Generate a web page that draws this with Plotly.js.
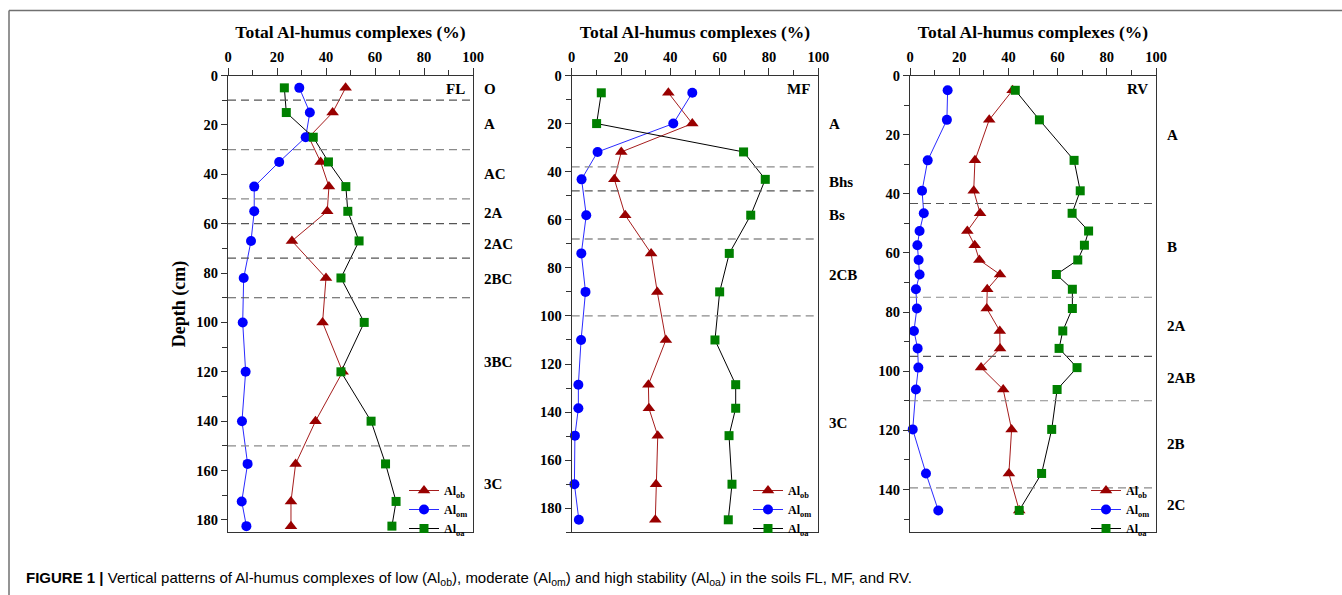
<!DOCTYPE html>
<html><head><meta charset="utf-8">
<script src="https://cdn.plot.ly/plotly-3.0.1.min.js"></script>
<style>html,body{margin:0;padding:0;background:#fff;overflow:hidden;} #chart{width:1342px;height:595px;}</style>
</head><body><div id="chart"></div>
<script>
// ---------- data ----------
const seriesNames = ['Al<sub>ob</sub>', 'Al<sub>om</sub>', 'Al<sub>oa</sub>'];

const flDepth = [5, 15, 25, 35, 45, 55, 67, 82, 100, 120, 140, 157.3, 172.5, 182.5];
const flOb = [48.0, 42.7, 33.0, 37.8, 41.2, 40.5, 26.1, 40.0, 38.6, 46.8, 35.7, 27.6, 25.7, 25.7];
const flOm = [29.1, 33.4, 31.7, 20.9, 10.7, 10.7, 9.4, 6.4, 6.0, 7.2, 5.7, 8.0, 5.6, 7.5];
const flOa = [23.0, 23.8, 34.8, 41.0, 48.1, 48.9, 53.5, 46.1, 55.6, 46.1, 58.4, 64.3, 68.6, 66.9];

const mfDepth = [7.2, 20, 31.8, 43.2, 58.1, 74, 90, 110, 128.6, 138.4, 149.8, 170, 184.8];
const mfOb = [39.2, 48.9, 20.1, 17.3, 21.7, 32.2, 34.7, 38.2, 31.1, 31.3, 34.9, 34.2, 33.9];
const mfOm = [48.9, 41.2, 10.5, 4.0, 5.9, 3.9, 5.6, 3.8, 2.7, 2.7, 1.3, 1.1, 2.9];
const mfOa = [12.0, 10.1, 69.7, 78.5, 72.6, 63.9, 60.0, 58.1, 66.5, 66.5, 63.8, 65.0, 63.5];

const rvDepth = [5, 15, 28.7, 39, 46.6, 52.6, 57.4, 62.4, 67.3, 72.3, 78.8, 86.4, 92.3, 98.8, 106.2, 119.7, 134.6, 147.1];
const rvOb = [41.7, 32.2, 26.4, 25.9, 28.5, 23.3, 26.3, 28.2, 36.6, 31.4, 31.2, 36.5, 36.6, 28.9, 37.9, 41.3, 40.2, 44.4];
const rvOm = [15.3, 15.0, 7.2, 4.9, 5.6, 3.9, 3.0, 3.5, 3.9, 2.4, 2.8, 1.6, 3.1, 3.4, 2.4, 1.1, 6.5, 11.5];
const rvOa = [42.8, 52.6, 66.7, 69.2, 65.9, 72.6, 70.9, 68.2, 59.5, 66.0, 66.0, 62.1, 60.6, 67.9, 59.8, 57.6, 53.5, 44.4];

// horizon boundaries (depth, cm) and whether drawn dark
const flBounds = [10, 30, 50, 60, 74, 90, 150];
const flBoundDark = [1, 0, 0, 1, 1, 1, 0];
const mfBounds = [38, 48, 68, 100];
const mfBoundDark = [0, 1, 1, 0];
const rvBounds = [43.3, 75, 95, 110, 139.5];
const rvBoundDark = [1, 0, 1, 0, 0];

// horizon labels
const flHorizons = ['O', 'A', 'AC', '2A', '2AC', '2BC', '3BC', '3C'];
const flHorizonDepth = [5.4, 19.6, 40, 55.5, 68.2, 82.5, 115.9, 165.6];
const mfHorizons = ['A', 'Bhs', 'Bs', '2CB', '3C'];
const mfHorizonDepth = [20.2, 44.3, 57.9, 83, 144.4];
const rvHorizons = ['A', 'B', '2A', '2AB', '2B', '2C'];
const rvHorizonDepth = [20, 58, 84.7, 102.2, 124.7, 145.4];

const siteNames = ['FL', 'MF', 'RV'];
const xTitle = 'Total Al-humus complexes (%)';
const yTitle = 'Depth (cm)';
const caption = '<b>FIGURE 1 |</b> Vertical patterns of Al-humus complexes of low (Al<sub>ob</sub>), moderate (Al<sub>om</sub>) and high stability (Al<sub>oa</sub>) in the soils FL, MF, and RV.';

// ---------- layout geometry ----------
const W = 1342, H = 595;
const px = v => v / W;
const py = v => 1 - v / H;
const serif = 'Liberation Serif, Times New Roman, serif';
const panels = [
  {depth: flDepth, ob: flOb, om: flOm, oa: flOa, bounds: flBounds, dark: flBoundDark, hz: flHorizons, hzd: flHorizonDepth, x0: 228, x1: 473, ymax: 185, legX: 404},
  {depth: mfDepth, ob: mfOb, om: mfOm, oa: mfOa, bounds: mfBounds, dark: mfBoundDark, hz: mfHorizons, hzd: mfHorizonDepth, x0: 571.7, x1: 818.3, ymax: 190, legX: 748},
  {depth: rvDepth, ob: rvOb, om: rvOm, oa: rvOa, bounds: rvBounds, dark: rvBoundDark, hz: rvHorizons, hzd: rvHorizonDepth, x0: 910, x1: 1156, ymax: 154.5, legX: 1086}
];
const yTop = 75.5, yBot = 532.3;

const styles = [
  {symbol: 'triangle-up', msize: 11, mcolor: '#990000', lcolor: '#a51c1c'},
  {symbol: 'circle', msize: 10, mcolor: '#0000ff', lcolor: '#2a2aff'},
  {symbol: 'square', msize: 9, mcolor: '#008000', lcolor: '#000000'}
];

const traces = [];
const layout = {
  width: W, height: H,
  margin: {l: 0, r: 0, t: 0, b: 0},
  paper_bgcolor: '#fff', plot_bgcolor: '#fff',
  showlegend: true,
  shapes: [], annotations: [],
  font: {family: serif, color: '#000'}
};

panels.forEach((p, i) => {
  const sfx = i === 0 ? '' : String(i + 1);
  const xa = 'x' + sfx, ya = 'y' + sfx;
  const legName = i === 0 ? 'legend' : 'legend' + (i + 1);
  [p.ob, p.om, p.oa].forEach((vals, k) => {
    const s = styles[k];
    traces.push({
      type: 'scatter', mode: 'lines+markers',
      x: vals, y: p.depth, xaxis: xa, yaxis: ya,
      name: seriesNames[k], legend: legName,
      line: {color: s.lcolor, width: 1},
      marker: {symbol: s.symbol, size: s.msize, color: s.mcolor},
      cliponaxis: false
    });
  });
  layout['xaxis' + sfx] = {
    domain: [px(p.x0), px(p.x1)], anchor: ya, side: 'top',
    range: [0, 100], dtick: 20, tick0: 0,
    ticks: 'outside', ticklen: 7, tickwidth: 1, tickcolor: '#333',
    minor: {dtick: 10, ticklen: 5, tickwidth: 1, tickcolor: '#333', ticks: 'outside', showgrid: false},
    showline: true, mirror: true, linecolor: '#333', linewidth: 1,
    showgrid: false, zeroline: false,
    tickfont: {family: serif, size: 14.5, weight: 'bold', color: '#000'},
    title: {text: xTitle, font: {family: serif, size: 17.5, weight: 'bold', color: '#000'}, standoff: 5},
    fixedrange: true
  };
  layout['yaxis' + sfx] = {
    domain: [py(yBot), py(yTop)], anchor: xa,
    range: [p.ymax, 0], dtick: 20, tick0: 0,
    ticks: 'outside', ticklen: 6, tickwidth: 1, tickcolor: '#333',
    minor: {dtick: 10, ticklen: 5, tickwidth: 1, tickcolor: '#333', ticks: 'outside', showgrid: false},
    showline: true, mirror: true, linecolor: '#333', linewidth: 1,
    showgrid: false, zeroline: false,
    tickfont: {family: serif, size: 14.5, weight: 'bold', color: '#000'},
    fixedrange: true
  };
  if (i === 0) {
    layout.yaxis.title = {text: yTitle, font: {family: serif, size: 18, weight: 'bold', color: '#000'}, standoff: 6};
  }
  layout[legName] = {
    x: px(p.legX), y: py(476), xanchor: 'left', yanchor: 'top',
    bgcolor: 'rgba(0,0,0,0)', borderwidth: 0,
    font: {family: serif, size: 12, weight: 'bold', color: '#000'},
    itemclick: false, itemdoubleclick: false
  };
  // horizon boundaries
  p.bounds.forEach((d, j) => {
    layout.shapes.push({
      type: 'line', xref: xa, yref: ya, x0: 0, x1: 102, y0: d, y1: d,
      line: {color: p.dark[j] ? '#555' : '#8a8a8a', width: 1.2, dash: '8px,5px'}
    });
  });
  // horizon labels
  p.hz.forEach((t, j) => {
    layout.annotations.push({
      xref: 'paper', yref: ya, x: px(p.x1 + 9), y: p.hzd[j],
      xanchor: 'left', yanchor: 'middle', showarrow: false, text: t,
      font: {family: serif, size: 15, weight: 'bold', color: '#000'}
    });
  });
  // site tag
  layout.annotations.push({
    xref: 'paper', yref: 'paper', x: px(p.x1 - 6), y: py(89),
    xanchor: 'right', yanchor: 'middle', showarrow: false, text: siteNames[i],
    font: {family: serif, size: 15, weight: 'bold', color: '#000'}
  });
});

// caption
layout.annotations.push({
  xref: 'paper', yref: 'paper', x: px(24), y: py(578), xanchor: 'left', yanchor: 'middle',
  showarrow: false, text: caption,
  font: {family: 'Liberation Sans Narrow, Arial Narrow, Liberation Sans, sans-serif', size: 15, color: '#000'}
});
// outer frame (top and left rule)
layout.shapes.push({type: 'line', xref: 'paper', yref: 'paper', x0: px(9), x1: 1, y0: py(10.5), y1: py(10.5), line: {color: '#707070', width: 1.5}});
layout.shapes.push({type: 'line', xref: 'paper', yref: 'paper', x0: px(9), x1: px(9), y0: py(10.5), y1: 0, line: {color: '#707070', width: 1.5}});

Plotly.newPlot('chart', traces, layout, {displayModeBar: false, staticPlot: true});
</script></body></html>
